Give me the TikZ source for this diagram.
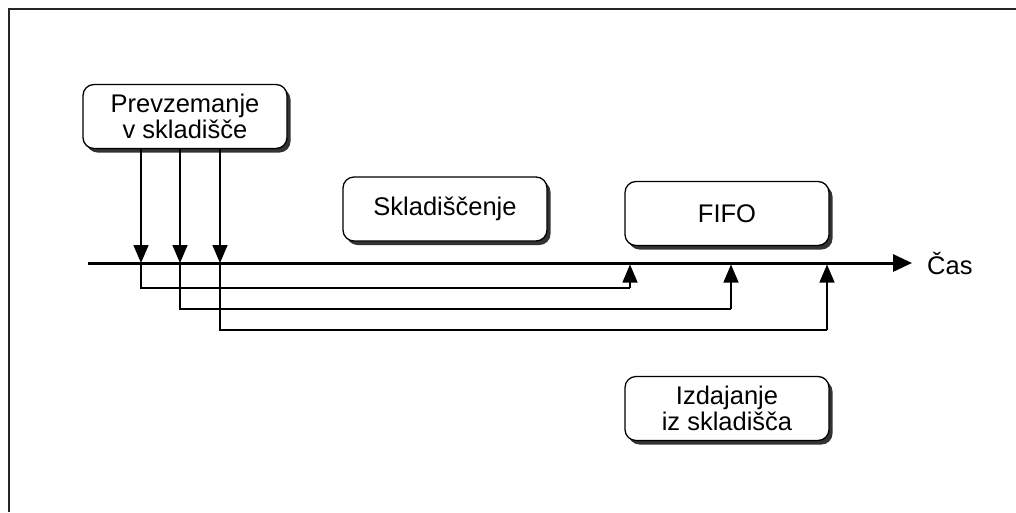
\documentclass[tikz,border=0pt]{standalone}
\usepackage{fontspec}
\setmainfont{Liberation Sans}
\usetikzlibrary{arrows.meta,shadows}

\tikzset{
  labelfont/.style={font=\fontsize{25.5}{26.5}\selectfont},
  stage/.style={draw=black, line width=1.3pt, fill=white, rounded corners=11pt,
    minimum width=204pt, minimum height=64pt, align=center, inner sep=0pt,
    labelfont,
    drop shadow={shadow xshift=3.5pt, shadow yshift=-4pt, fill=black!80, opacity=1}},
  timeaxis/.style={line width=3pt, -{Triangle[length=19pt,width=17pt]}},
  flow/.style={line width=1.4pt, -{Triangle[length=18pt,width=15pt]}},
  ret/.style={line width=1.4pt},
  frameline/.style={line width=2.5pt, black!85}
}

\begin{document}
\begin{tikzpicture}[x=1pt, y=-1pt]
  \useasboundingbox (0,0) rectangle (1016,512);
  \fill[white] (0,0) rectangle (1016,512);

  % outer frame (top and left edges)
  \draw[frameline] (1016,9) -- (9,9) -- (9,512);

  % stages
  \node[stage] (in)    at (185,116.5) {Prevzemanje\\v skladišče};
  \node[stage] (store) at (445,209)    {Skladiščenje};
  \node[stage] (fifo)  at (727,213.5)  {FIFO};
  \node[stage] (out)   at (727,408.5)  {Izdajanje\\iz skladišča};

  % time axis
  \coordinate (t0) at (88,263);
  \coordinate (t1) at (912,263);
  \draw[timeaxis] (t0) -- (t1);
  \node[anchor=west, inner sep=0pt, labelfont] (cas) at (927,263) {Čas};

  % receipts onto the axis
  \coordinate (a1) at (141,263);
  \coordinate (a2) at (180,263);
  \coordinate (a3) at (220,263);
  \draw[flow] (in.south -| a1) -- (a1);
  \draw[flow] (in.south -| a2) -- (a2);
  \draw[flow] (in.south -| a3) -- (a3);

  % issues back onto the axis, first in first out
  \coordinate (b1) at (630,264.5);
  \coordinate (b2) at (731,264.5);
  \coordinate (b3) at (827,264.5);
  \draw[ret] (a1) -- (141,288) -- (630,288);
  \draw[flow] (630,288) -- (b1);
  \draw[ret] (a2) -- (180,309) -- (731,309);
  \draw[flow] (731,309) -- (b2);
  \draw[ret] (a3) -- (220,330) -- (827,330);
  \draw[flow] (827,330) -- (b3);
\end{tikzpicture}
\end{document}
